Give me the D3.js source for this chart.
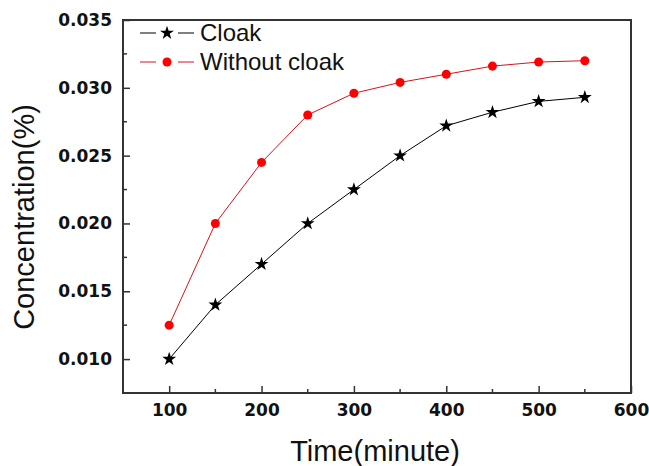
<!DOCTYPE html>
<html>
<head>
<meta charset="utf-8">
<script src="https://cdn.jsdelivr.net/npm/d3@7"></script>
<style>
  body { margin: 0; background: #fff; }
  svg { display: block; font-family: "Liberation Sans", Arial, sans-serif; }
</style>
</head>
<body>
<svg id="chart" width="649" height="466"></svg>
<script>
// données
const times = [100, 150, 200, 250, 300, 350, 400, 450, 500, 550];
const cloak = [0.0100, 0.0140, 0.0170, 0.0200, 0.0225, 0.0250, 0.0272, 0.0282, 0.0290, 0.0293];
const withoutCloak = [0.0125, 0.0200, 0.0245, 0.0280, 0.0296, 0.0304, 0.0310, 0.0316, 0.0319, 0.0320];
const xTicks = [100, 200, 300, 400, 500, 600];
const yTicks = [0.010, 0.015, 0.020, 0.025, 0.030, 0.035];
const seriesNames = ["Cloak", "Without cloak"];

const margin = { left: 123, top: 20, right: 18, bottom: 73 };
const width = 649, height = 466;

const svg = d3.select("#chart");

const x = d3.scaleLinear().domain([50, 600]).range([margin.left, width - margin.right]);
const y = d3.scaleLinear().domain([0.0075, 0.035]).range([height - margin.bottom, margin.top]);

const axisColor = "#333";
const tickFont = '"DejaVu Sans", sans-serif';

// cadre
svg.append("rect")
    .attr("x", x(50)).attr("y", y(0.035))
    .attr("width", x(600) - x(50)).attr("height", y(0.0075) - y(0.035))
    .style("fill", "none").style("stroke", axisColor).style("stroke-width", "2px");

// axe X (graduations vers l'intérieur)
const xMinor = d3.range(150, 600, 100);
const gx = svg.append("g").attr("transform", `translate(0,${y(0.0075)})`);
gx.call(d3.axisBottom(x).tickValues(xTicks).tickSize(-7).tickFormat(d3.format("d")).tickPadding(11));
gx.select(".domain").remove();
gx.selectAll(".tick line").style("stroke", axisColor).style("stroke-width", "1.5px");
gx.selectAll(".tick text")
    .style("font-family", tickFont)
    .style("font-size", "17px").style("font-weight", "bold").style("fill", "#111");
gx.selectAll(".minor").data(xMinor).enter().append("line")
    .attr("x1", d => x(d)).attr("x2", d => x(d))
    .attr("y1", 0).attr("y2", -4)
    .style("stroke", axisColor).style("stroke-width", "1.5px");

// axe Y
const yMinor = d3.range(0.0125, 0.035, 0.005);
const gy = svg.append("g").attr("transform", `translate(${x(50)},0)`);
gy.call(d3.axisLeft(y).tickValues(yTicks).tickSize(-7).tickFormat(d3.format(".3f")).tickPadding(11));
gy.select(".domain").remove();
gy.selectAll(".tick line").style("stroke", axisColor).style("stroke-width", "1.5px");
gy.selectAll(".tick text")
    .style("font-family", tickFont)
    .style("font-size", "17px").style("font-weight", "bold").style("fill", "#111");
gy.selectAll(".minor").data(yMinor).enter().append("line")
    .attr("x1", 0).attr("x2", 4)
    .attr("y1", d => y(d)).attr("y2", d => y(d))
    .style("stroke", axisColor).style("stroke-width", "1.5px");

// titres des axes
svg.append("text")
    .attr("x", 375).attr("y", 461)
    .attr("text-anchor", "middle")
    .style("font-size", "29px").style("fill", "#111")
    .text("Time(minute)");

svg.append("text")
    .attr("transform", "translate(34,217) rotate(-90)")
    .attr("text-anchor", "middle")
    .style("font-size", "29px").style("fill", "#111")
    .text("Concentration(%)");

// séries
const series = [
    { name: seriesNames[0], values: cloak, color: "#000", line: "#000", symbol: d3.symbolStar, size: 60 },
    { name: seriesNames[1], values: withoutCloak, color: "#f00", line: "#d4141c", symbol: d3.symbolCircle, size: 64 }
];

const line = d3.line()
    .x((d, i) => x(times[i]))
    .y(d => y(d));

series.forEach(s => {
    svg.append("path")
        .datum(s.values)
        .attr("d", line)
        .style("fill", "none")
        .style("stroke", s.line)
        .style("stroke-width", "1px");

    svg.selectAll(null)
        .data(s.values)
        .enter().append("path")
        .attr("transform", (d, i) => `translate(${x(times[i])},${y(d)})`)
        .attr("d", d3.symbol().type(s.symbol).size(s.size))
        .style("fill", s.color);
});

// légende
series.forEach((s, i) => {
    const ly = 33 + i * 29;
    const lg = svg.append("g").attr("transform", `translate(167,${ly})`);
    lg.append("line").attr("x1", -27).attr("x2", -11).attr("y1", 0).attr("y2", 0)
        .style("stroke", s.line).style("stroke-width", "1px");
    lg.append("line").attr("x1", 11).attr("x2", 27).attr("y1", 0).attr("y2", 0)
        .style("stroke", s.line).style("stroke-width", "1px");
    lg.append("path")
        .attr("d", d3.symbol().type(s.symbol).size(s.size))
        .style("fill", s.color);
    lg.append("text")
        .attr("x", 33).attr("y", 8)
        .style("font-size", "24px").style("fill", "#111")
        .text(s.name);
});
</script>
</body>
</html>
